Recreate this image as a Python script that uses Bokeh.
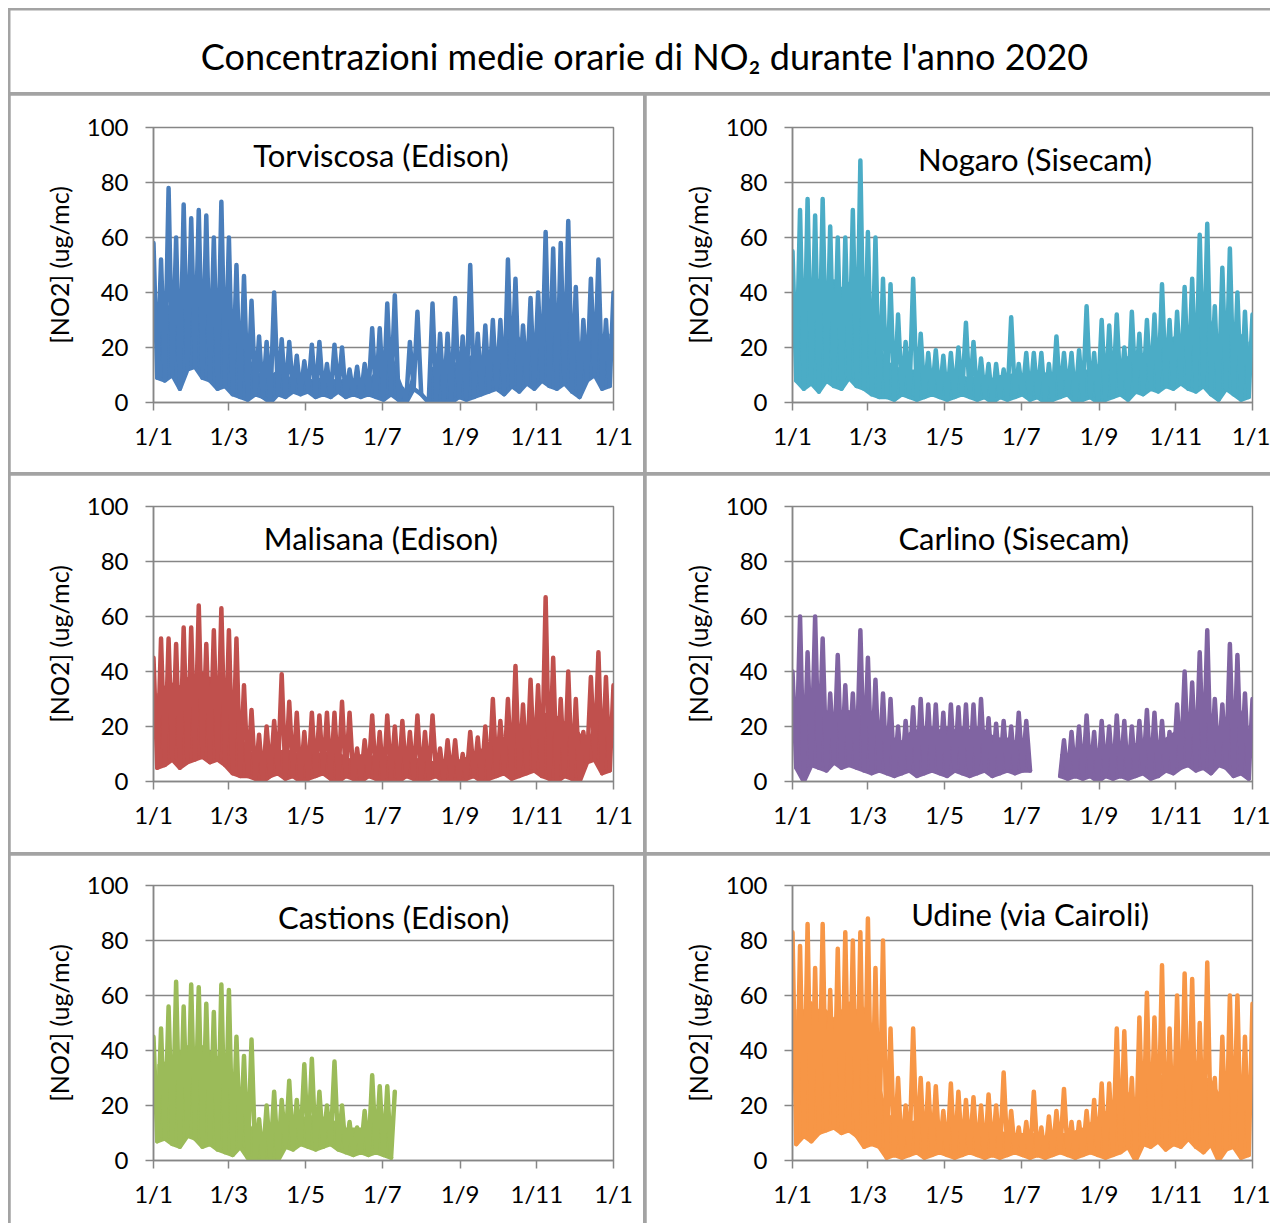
import math
from bokeh.plotting import figure
from bokeh.models import Range1d, FixedTicker, Label
from bokeh.layouts import column, row
from bokeh.embed import file_html
from bokeh.resources import INLINE

nan = float("nan")

# x axis: day of year 2020 (leap year), one series point every 3 days
TICK_DAYS = [0, 60, 121, 182, 244, 305, 366]
TICK_LABELS = ["1/1", "1/3", "1/5", "1/7", "1/9", "1/11", "1/1"]
Y_TICKS = [0, 20, 40, 60, 80, 100]
STEP_DAYS = 3

# peaks (days 0,6,12,...), troughs (days 3,9,15,...) and the top of the dense
# band at the trough days
torviscosa_high = [58, 52, 78, 60, 72, 67, 70, 68, 60, 73, 60, 50, 46, 37, 24, 22, 40, 23, 22, 17,
                   15, 21, 22, 14, 21, 20, 12, 13, 14, 27, 27, 36, 39, 5, 22, 33, nan, 36, 25, 25,
                   38, 24, 50, 25, 28, 30, 30, 52, 45, 28, 38, 40, 62, 56, 58, 66, 42, 30, 45, 52,
                   30, 40]
torviscosa_low = [9, 8, 10, 5, 12, 13, 9, 8, 5, 6, 3, 2, 1, 3, 2, 0, 3, 2, 4, 3,
                  4, 2, 3, 2, 4, 2, 3, 2, 3, 2, 1, 3, 1, 0, 5, 3, 0, 0, 1, 0,
                  2, 1, 2, 3, 4, 5, 3, 6, 4, 7, 5, 8, 6, 5, 7, 4, 2, 8, 10, 5, 6]
torviscosa_band = [35, 33, 38, 36, 38, 40, 42, 40, 38, 36, 30, 25, 18, 12, 10, 10, 12, 10, 9, 10,
                   9, 8, 10, 9, 8, 9, 8, 7, 8, 12, 18, 20, 10, 3, 12, nan, 12, 14, 15, 13,
                   16, 16, 18, 16, 18, 20, 22, 25, 24, 20, 24, 30, 35, 33, 34, 30, 22, 24, 28, 25, 25]

nogaro_high = [55, 70, 74, 68, 74, 64, 60, 60, 70, 88, 62, 60, 45, 43, 32, 22, 45, 25, 18, 19,
               17, 18, 20, 29, 22, 16, 14, 14, 12, 31, 14, 18, 18, 18, 14, 24, 18, 18, 19, 35,
               18, 30, 28, 32, 20, 33, 25, 30, 32, 43, 30, 33, 42, 45, 61, 65, 35, 49, 56, 40,
               33, 32]
nogaro_low = [8, 5, 7, 4, 8, 6, 5, 9, 6, 5, 3, 2, 2, 1, 3, 2, 1, 2, 3, 2,
              1, 2, 3, 2, 1, 2, 0, 2, 1, 2, 3, 1, 2, 0, 1, 2, 3, 0, 1, 2,
              0, 1, 2, 3, 1, 4, 3, 5, 4, 6, 5, 7, 5, 4, 6, 3, 1, 5, 3, 1, 2]
nogaro_band = [40, 42, 45, 45, 42, 45, 42, 44, 45, 40, 35, 22, 15, 14, 12, 12, 12, 11, 12, 11,
               10, 11, 10, 9, 10, 10, 9, 10, 10, 11, 10, 11, 10, 11, 10, 11, 10, 11, 12, 12,
               14, 14, 16, 15, 17, 18, 18, 20, 22, 22, 24, 25, 28, 30, 32, 30, 24, 26, 28, 25, 22]

malisana_high = [45, 52, 52, 50, 56, 56, 64, 50, 55, 63, 55, 52, 35, 26, 17, 20, 22, 39, 29, 25,
                 18, 25, 24, 25, 25, 29, 25, 12, 15, 24, 18, 24, 20, 22, 18, 24, 18, 24, 12, 15,
                 15, 10, 18, 16, 20, 30, 22, 30, 42, 28, 37, 35, 67, 45, 30, 40, 30, 18, 38, 47,
                 38, 35]
malisana_low = [5, 6, 8, 5, 7, 8, 9, 7, 8, 6, 3, 2, 2, 1, 0, 2, 3, 1, 2, 0,
                1, 2, 3, 1, 0, 2, 1, 0, 2, 1, 0, 1, 0, 2, 1, 0, 1, 2, 0, 1,
                0, 1, 2, 0, 1, 2, 3, 1, 2, 3, 4, 2, 1, 0, 2, 1, 0, 7, 8, 3, 4]
malisana_band = [32, 35, 36, 35, 38, 38, 40, 38, 38, 36, 28, 18, 12, 10, 10, 12, 11, 12, 11, 10,
                 12, 11, 10, 12, 11, 9, 8, 10, 9, 10, 10, 9, 10, 9, 8, 9, 8, 7, 8, 7,
                 8, 9, 10, 12, 13, 15, 16, 18, 20, 18, 22, 24, 26, 24, 22, 20, 18, 14, 22, 24, 22]

carlino_high = [40, 60, 47, 60, 52, 32, 46, 35, 32, 55, 45, 37, 32, 30, 20, 22, 27, 30, 28, 28,
                25, 28, 27, 28, 28, 30, 23, 21, 22, 20, 25, 22, nan, nan, nan, nan, 15, 18, 20, 24,
                18, 22, 20, 24, 22, 20, 22, 26, 25, 22, 18, 28, 40, 36, 47, 55, 30, 28, 50, 46,
                32, 30]
carlino_low = [5, 0, 6, 5, 4, 7, 5, 6, 5, 4, 3, 4, 3, 2, 3, 4, 2, 3, 4, 3,
               2, 4, 3, 2, 3, 4, 2, 3, 4, 3, 4, 4, nan, nan, nan, 2, 1, 2, 1, 2,
               0, 2, 1, 2, 1, 2, 3, 1, 2, 4, 3, 5, 6, 4, 5, 3, 6, 5, 2, 3, 1]
carlino_band = [26, 28, 27, 28, 26, 25, 26, 26, 25, 24, 22, 20, 18, 16, 15, 18, 19, 20, 20, 19,
                20, 19, 20, 19, 20, 19, 17, 16, 16, 15, 15, 14, nan, nan, nan, 10, 10, 12, 12, 13,
                12, 13, 12, 14, 13, 14, 14, 16, 15, 16, 18, 20, 24, 26, 28, 25, 20, 22, 28, 26, 20]

castions_high = [45, 48, 56, 65, 56, 64, 63, 57, 54, 64, 62, 45, 38, 44, 15, 20, 25, 22, 29, 22,
                 35, 37, 25, 20, 36, 20, 14, 12, 18, 31, 27, 27, 25]
castions_low = [7, 8, 6, 5, 9, 8, 5, 6, 4, 3, 2, 5, 1, 0, 0, 1, 0, 5, 4, 6,
                5, 4, 5, 6, 4, 3, 2, 3, 2, 3, 2, 1]
castions_band = [35, 36, 38, 40, 42, 40, 42, 40, 38, 36, 30, 24, 15, 10, 10, 12, 14, 15, 15, 16,
                 16, 17, 16, 15, 14, 12, 12, 12, 13, 15, 16, 16]

udine_high = [83, 78, 86, 70, 86, 62, 77, 83, 80, 83, 88, 70, 80, 48, 30, 20, 48, 30, 28, 27,
              18, 28, 25, 22, 23, 20, 24, 20, 32, 18, 12, 14, 25, 12, 16, 18, 26, 14, 14, 18,
              22, 28, 28, 48, 47, 30, 52, 61, 52, 71, 48, 60, 68, 66, 50, 72, 30, 45, 60, 60,
              45, 57]
udine_low = [6, 9, 7, 10, 11, 12, 10, 11, 9, 5, 6, 5, 1, 2, 1, 2, 3, 1, 2, 3,
             2, 1, 2, 3, 2, 1, 2, 1, 2, 3, 2, 1, 2, 1, 2, 3, 2, 1, 2, 3,
             2, 1, 2, 3, 5, 0, 6, 5, 7, 4, 6, 5, 8, 5, 3, 6, 0, 4, 5, 1, 2]
udine_band = [55, 55, 58, 55, 55, 52, 55, 58, 55, 56, 50, 30, 18, 15, 14, 14, 15, 14, 13, 12,
              13, 12, 12, 13, 12, 11, 12, 11, 10, 10, 10, 10, 10, 9, 10, 10, 10, 11, 12, 14,
              16, 18, 20, 22, 25, 22, 28, 30, 32, 30, 32, 35, 34, 32, 30, 30, 25, 28, 32, 30, 28]

FONT = "Lato"
GRID = "#868686"
SEP = "#a3a3a3"


def series(highs, lows):
    vals = []
    for i, h in enumerate(highs):
        vals.append(h)
        if i < len(lows):
            vals.append(lows[i])
    days = [STEP_DAYS * i for i in range(len(vals))]
    return days, vals


def runs(xs, y1s, y2s):
    """split into runs without missing values"""
    out, cur = [], ([], [], [])
    for x, a, b in zip(xs, y1s, y2s):
        if math.isnan(a) or math.isnan(b):
            if cur[0]:
                out.append(cur)
            cur = ([], [], [])
        else:
            cur[0].append(x)
            cur[1].append(a)
            cur[2].append(b)
    if cur[0]:
        out.append(cur)
    return out


def panel(name, color, highs, lows, band, bl, br, bt, bb, lx, ly):
    p = figure(frame_width=460, frame_height=275,
               min_border_left=bl, min_border_right=br,
               min_border_top=bt, min_border_bottom=bb,
               x_range=Range1d(0, 366), y_range=Range1d(0, 100),
               toolbar_location=None, output_backend="svg", tools="")
    p.background_fill_color = "white"
    p.border_fill_color = "white"
    p.outline_line_color = GRID
    p.outline_line_width = 1.5

    low_days = [2 * STEP_DAYS * j + STEP_DAYS for j in range(len(lows))]
    for xs, y1, y2 in runs(low_days, lows, band):
        p.varea(x=xs, y1=y1, y2=y2, fill_color=color)
    p.line(low_days, lows, line_color=color, line_width=4.5,
           line_join="round", line_cap="round")
    days, vals = series(highs, lows)
    p.line(days, vals, line_color=color, line_width=4.5,
           line_join="round", line_cap="round")

    p.xaxis.ticker = FixedTicker(ticks=TICK_DAYS)
    p.xaxis.major_label_overrides = {d: l for d, l in zip(TICK_DAYS, TICK_LABELS)}
    p.yaxis.ticker = FixedTicker(ticks=Y_TICKS)
    p.xgrid.visible = False
    p.ygrid.grid_line_color = GRID
    p.ygrid.grid_line_width = 1.5

    for ax in (p.xaxis[0], p.yaxis[0]):
        ax.axis_line_color = GRID
        ax.axis_line_width = 1.5
        ax.major_tick_line_color = GRID
        ax.major_tick_line_width = 1.5
        ax.major_tick_out = 8
        ax.major_tick_in = 0
        ax.minor_tick_line_color = None
        ax.major_label_text_font = FONT
        ax.major_label_text_font_size = "24px"
        ax.major_label_text_color = "black"
    p.xaxis.major_label_standoff = 10
    p.yaxis.major_label_standoff = 17

    p.yaxis.axis_label = "[NO2] (ug/mc)"
    p.yaxis.axis_label_text_font = FONT
    p.yaxis.axis_label_text_font_size = "25px"
    p.yaxis.axis_label_text_font_style = "normal"
    p.yaxis.axis_label_text_color = "black"
    p.yaxis.axis_label_standoff = 10

    p.add_layout(Label(x=lx, y=ly, text=name, text_align="center",
                       text_baseline="middle", text_font=FONT,
                       text_font_size="31px", text_color="black"))
    return p


title_p = figure(width=1260, height=82, x_range=Range1d(0, 1260), y_range=Range1d(0, 82),
                 toolbar_location=None, output_backend="svg", tools="", min_border=0)
title_p.axis.visible = False
title_p.grid.visible = False
title_p.outline_line_color = None
title_p.add_layout(Label(x=634, y=37, text="Concentrazioni medie orarie di NO\u2082 durante l'anno 2020",
                         text_align="center", text_baseline="middle", text_font=FONT,
                         text_font_size="36px", text_color="black"))

p1 = panel("Torviscosa (Edison)", "#4A7EBB", torviscosa_high, torviscosa_low, torviscosa_band,
           143, 30, 32, 70, 181, 90)
p2 = panel("Nogaro (Sisecam)", "#4BACC6", nogaro_high, nogaro_low, nogaro_band,
           146, 18, 32, 70, 193, 88.7)
p3 = panel("Malisana (Edison)", "#C0504D", malisana_high, malisana_low, malisana_band,
           143, 30, 31, 71, 181, 88.7)
p4 = panel("Carlino (Sisecam)", "#8064A2", carlino_high, carlino_low, carlino_band,
           146, 18, 31, 71, 176, 88.7)
p5 = panel("Castions (Edison)", "#9BBB59", castions_high, castions_low, castions_band,
           143, 30, 30, 63, 191, 88.4)
p6 = panel("Udine (via Cairoli)", "#F79646", udine_high, udine_low, udine_band,
           146, 18, 30, 63, 189, 89.8)

root = column(title_p,
              row(p1, p2, spacing=3),
              row(p3, p4, spacing=3),
              row(p5, p6, spacing=3),
              spacing=3,
              styles={"background-color": SEP, "padding": "2px 0px 0px 2px",
                      "margin": "8px 0px 0px 8px"})

open("out.html", "w").write(file_html(root, INLINE))
